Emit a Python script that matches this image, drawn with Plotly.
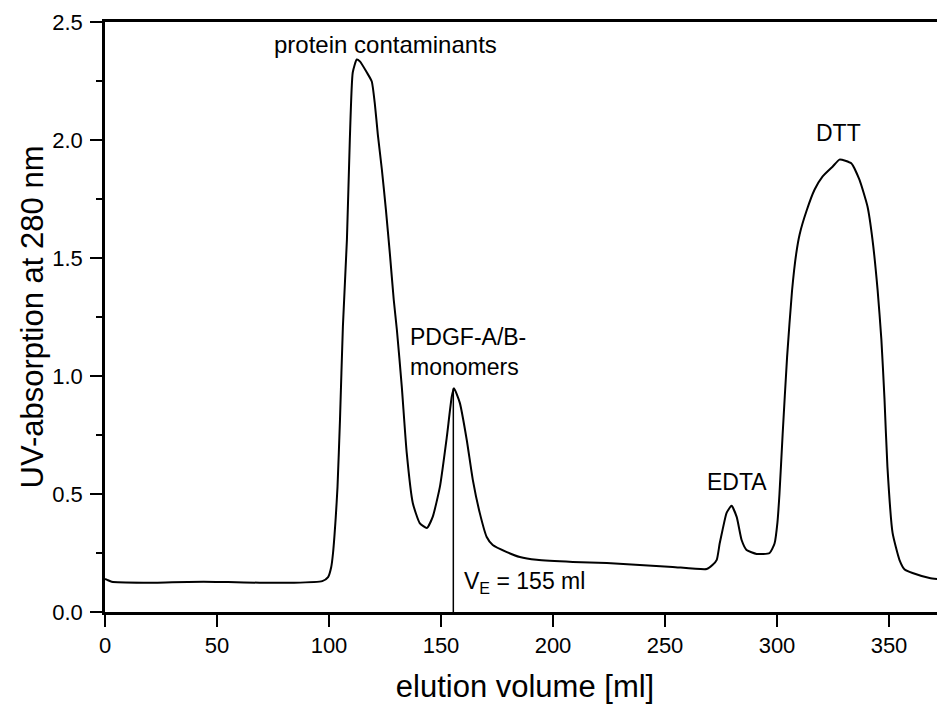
import plotly.graph_objects as go

# elution volume [ml]
volume = [0, 1, 3, 17, 30, 44, 55, 69, 84, 97, 99.6, 101.0, 101.8, 103.0, 103.8, 104.9,
          106.2, 108.0, 109.3, 110.6, 112.4, 113.8, 116.9, 119.1, 120.5, 121.8, 123.6,
          125.4, 127.2, 128.9, 130.3, 132.5, 134.7, 137.4, 140.5, 143.7, 146.3, 149.5,
          152.6, 154.8, 155.8, 158.4, 161.5, 164.2, 167.3, 170.4, 173.1, 179.4, 185.2,
          192.7, 208.8, 224.0, 238.7, 253.4, 268.6, 271.3, 273.1, 274.4, 275.7, 277.5,
          279.7, 282.0, 284.2, 286.4, 290.9, 296.7, 298.9, 300.2, 301.1, 302.5, 304.5,
          306.7, 308.6, 310.1, 313.2, 316.8, 320.3, 324.8, 327.9, 330.5, 333.3, 336.8,
          340.4, 342.6, 344.9, 346.6, 348.0, 349.3, 351.6, 354.7, 357.0, 360.5, 368.1, 375.0]
# UV-absorption at 280 nm
absorbance = [0.140, 0.136, 0.128, 0.124, 0.126, 0.128, 0.127, 0.124, 0.124, 0.131, 0.148,
              0.191, 0.250, 0.400, 0.530, 0.814, 1.209, 1.578, 2.002, 2.286, 2.341, 2.333,
              2.286, 2.248, 2.150, 2.023, 1.875, 1.705, 1.515, 1.323, 1.196, 0.954, 0.674,
              0.462, 0.377, 0.356, 0.403, 0.530, 0.742, 0.912, 0.948, 0.886, 0.729, 0.560,
              0.420, 0.318, 0.284, 0.254, 0.233, 0.221, 0.212, 0.208, 0.199, 0.191, 0.182,
              0.200, 0.221, 0.290, 0.348, 0.420, 0.450, 0.403, 0.305, 0.263, 0.246, 0.250,
              0.290, 0.380, 0.500, 0.750, 1.080, 1.360, 1.520, 1.600, 1.700, 1.790, 1.845,
              1.887, 1.917, 1.912, 1.900, 1.832, 1.718, 1.580, 1.366, 1.154, 0.900, 0.615,
              0.335, 0.220, 0.180, 0.165, 0.144, 0.136]

ve_volume = 155.5
ve_peak = 0.948

x_ticks = [0, 50, 100, 150, 200, 250, 300, 350]
y_ticks = [0.0, 0.5, 1.0, 1.5, 2.0, 2.5]
y_tick_text = ["0.0", "0.5", "1.0", "1.5", "2.0", "2.5"]

peak_labels = [
    dict(x=125.4, y=2.405, text="protein contaminants", xanchor="center", size=24),
    dict(x=135.3, y=1.103, text="PDGF-A/B-<br>monomers", xanchor="left", size=23),
    dict(x=282.0, y=0.550, text="EDTA", xanchor="center", size=23),
    dict(x=327.5, y=2.030, text="DTT", xanchor="center", size=23),
    dict(x=159.3, y=0.125, text="V<sub>E</sub> = 155 ml", xanchor="left", size=23),
]

FONT = "Liberation Sans, Arial, Helvetica, sans-serif"

fig = go.Figure()
fig.add_trace(go.Scatter(x=volume, y=absorbance, mode="lines",
                         line=dict(color="black", width=2, shape="spline", smoothing=0.5),
                         showlegend=False, hoverinfo="skip"))
fig.add_trace(go.Scatter(x=[ve_volume, ve_volume], y=[0, ve_peak], mode="lines",
                         line=dict(color="black", width=1.5),
                         showlegend=False, hoverinfo="skip"))

for lab in peak_labels:
    fig.add_annotation(x=lab["x"], y=lab["y"], xref="x", yref="y", text=lab["text"],
                       xanchor=lab["xanchor"], yanchor="middle", align="left",
                       showarrow=False, font=dict(family=FONT, size=lab["size"], color="black"))

fig.update_layout(
    width=937, height=696,
    margin=dict(l=97, r=0, t=14, b=92),
    paper_bgcolor="white", plot_bgcolor="white",
    font=dict(family=FONT, color="black"),
)
fig.update_xaxes(
    range=[0, 375], tickvals=x_ticks, ticks="outside", ticklen=12, tickwidth=2,
    tickcolor="black", showline=True, linecolor="black", linewidth=2.5, mirror=True,
    showgrid=False, zeroline=False, tickfont=dict(size=22, family=FONT),
    title=dict(text="elution volume [ml]", font=dict(size=31, family=FONT), standoff=19),
    ticklabelstandoff=0,
)
fig.update_yaxes(
    range=[0, 2.5], tickvals=y_ticks, ticktext=y_tick_text, ticks="outside", ticklen=12,
    tickwidth=2, tickcolor="black", showline=True, linecolor="black", linewidth=2.5,
    showgrid=False, zeroline=False, tickfont=dict(size=22, family=FONT),
    minor=dict(ticks="outside", ticklen=6, tickwidth=2, tickcolor="black", dtick=0.25),
    title=dict(text="UV-absorption at 280 nm", font=dict(size=31, family=FONT), standoff=0),
    ticklabelstandoff=3,
)

fig.write_html("out.html")
